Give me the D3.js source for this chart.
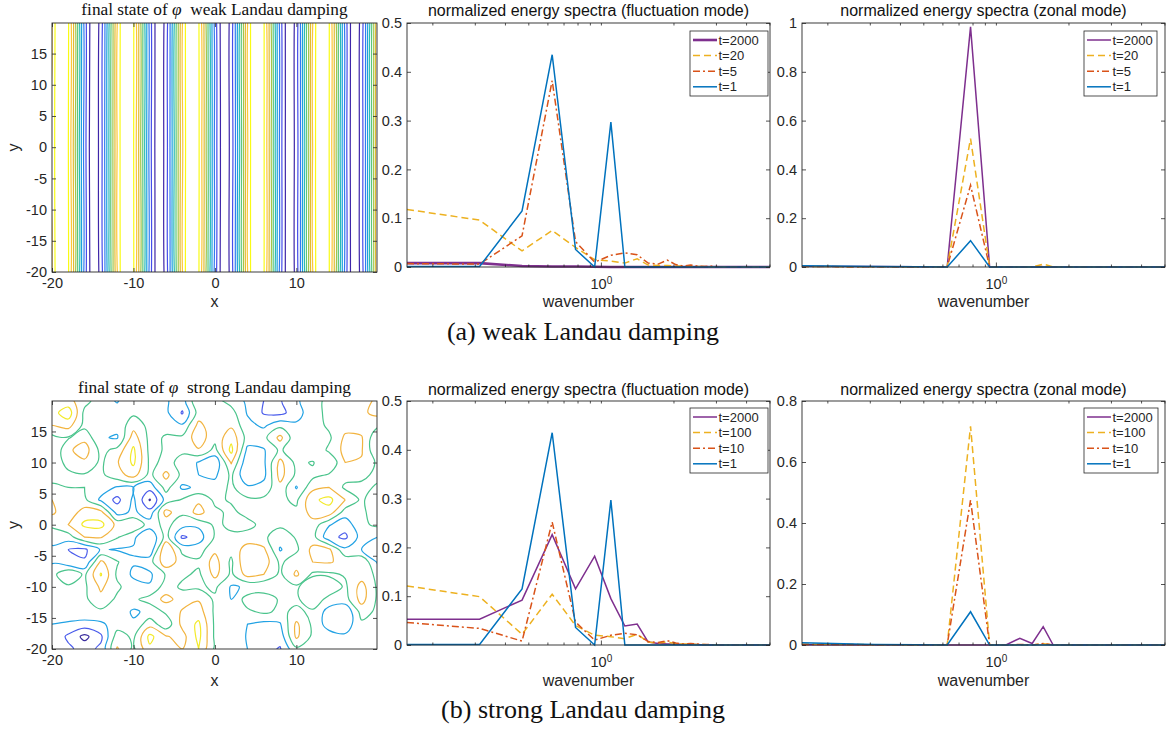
<!DOCTYPE html>
<html lang="en">
<head>
<meta charset="utf-8">
<title>Landau damping: contours and energy spectra</title>
<script src="https://cdn.jsdelivr.net/npm/d3@7"></script>
<style>
  body { margin: 0; background: #fff; }
</style>
</head>
<body>
<script>
// ---- data ----
// wavenumbers k = n * 2pi / 40, n = 1..32
const wavenumber = [0.157, 0.314, 0.471, 0.628, 0.785, 0.942, 1.100, 1.257, 1.414, 1.571,
  1.728, 1.885, 2.042, 2.199, 2.356, 2.513, 2.670, 2.827, 2.985, 3.142,
  3.299, 3.456, 3.613, 3.770, 3.927, 4.084, 4.241, 4.398, 4.555, 4.712, 4.869, 5.027];

// (a) weak damping, fluctuation mode
const weakFluctT2000 = [0.008,0.008,0.002,0.001,0.001,0.0005,0,0,0,0, 0,0,0,0,0,0,0,0,0,0, 0,0,0,0,0,0,0,0,0,0, 0,0];
const weakFluctT20   = [0.118,0.096,0.033,0.075,0.040,0.015,0.012,0.008,0.017,0.004, 0.003,0.003,0.002,0.002,0.001,0.001,0.001,0,0,0, 0,0,0,0,0,0,0,0,0,0, 0,0];
const weakFluctT5    = [0.007,0.006,0.064,0.382,0.052,0.010,0.024,0.029,0.025,0.008, 0.006,0.014,0.005,0.002,0.004,0.002,0.001,0.002,0.001,0, 0,0,0,0,0,0,0,0,0,0, 0,0];
const weakFluctT1    = [0.001,0.001,0.115,0.435,0.036,0,0.297,0,0,0, 0,0,0,0,0,0,0,0,0,0, 0,0,0,0,0,0,0,0,0,0, 0,0];
// (a) weak damping, zonal mode
const weakZonalT2000 = [0.003,0.002,0.001,0,0.984,0,0,0,0,0, 0,0,0,0,0,0,0,0,0,0, 0,0,0,0,0,0,0,0,0,0, 0,0];
const weakZonalT20   = [0.002,0.001,0,0,0.526,0,0,0,0,0.012, 0,0,0,0,0,0,0,0,0,0, 0,0,0,0,0,0,0,0,0,0, 0,0];
const weakZonalT5    = [0.002,0.001,0,0,0.335,0,0,0,0,0.002, 0,0,0,0,0,0,0,0,0,0, 0,0,0,0,0,0,0,0,0,0, 0,0];
const weakZonalT1    = [0.005,0.002,0.001,0,0.108,0,0,0,0,0, 0,0,0,0,0,0,0,0,0,0, 0,0,0,0,0,0,0,0,0,0, 0,0];
// (b) strong damping, fluctuation mode
const strongFluctT2000 = [0.053,0.053,0.092,0.226,0.115,0.182,0.095,0.039,0.043,0.006, 0.003,0.002,0.002,0.001,0.001,0.001,0,0,0,0, 0,0,0,0,0,0,0,0,0,0, 0,0];
const strongFluctT100  = [0.121,0.099,0.022,0.104,0.040,0.020,0.017,0.013,0.022,0.006, 0.004,0.006,0.003,0.002,0.002,0.001,0.001,0,0,0, 0,0,0,0,0,0,0,0,0,0, 0,0];
const strongFluctT10   = [0.046,0.034,0.008,0.252,0.047,0.010,0.020,0.024,0.021,0.007, 0.005,0.009,0.004,0.002,0.003,0.002,0.001,0.001,0,0, 0,0,0,0,0,0,0,0,0,0, 0,0];
const strongFluctT1    = [0.001,0.001,0.115,0.435,0.036,0,0.297,0,0,0, 0,0,0,0,0,0,0,0,0,0, 0,0,0,0,0,0,0,0,0,0, 0,0];
// (b) strong damping, zonal mode
const strongZonalT2000 = [0.001,0,0,0,0,0,0,0.022,0.005,0.060, 0,0,0,0,0,0,0,0,0,0, 0,0,0,0,0,0,0,0,0,0, 0,0];
const strongZonalT100  = [0.003,0.001,0,0,0.717,0,0,0,0,0.004, 0,0,0,0,0,0,0,0,0,0, 0,0,0,0,0,0,0,0,0,0, 0,0];
const strongZonalT10   = [0.002,0.001,0,0,0.475,0,0,0.002,0,0.005, 0,0,0,0,0,0,0,0,0,0, 0,0,0,0,0,0,0,0,0,0, 0,0];
const strongZonalT1    = [0.007,0.002,0.001,0,0.109,0,0,0,0,0, 0,0,0,0,0,0,0,0,0,0, 0,0,0,0,0,0,0,0,0,0, 0,0];

const weakLabels   = ["t=2000", "t=20", "t=5", "t=1"];
const strongLabels = ["t=2000", "t=100", "t=10", "t=1"];

// final state of phi, weak damping: rows y = 20, 0, -20 ; columns x = -20..20 step 0.5
const weakPhiRows = [
  [0.59,0.85,0.99,0.97,0.81,0.52,0.16,-0.23,-0.59,-0.85,-0.99,-0.97,-0.81,-0.52,-0.16,0.23,
   0.59,0.85,0.99,0.97,0.81,0.52,0.16,-0.23,-0.59,-0.85,-0.99,-0.97,-0.81,-0.52,-0.16,0.23,
   0.59,0.85,0.99,0.97,0.81,0.52,0.16,-0.23,-0.59,-0.85,-0.99,-0.97,-0.81,-0.52,-0.16,0.23,
   0.59,0.85,0.99,0.97,0.81,0.52,0.16,-0.23,-0.59,-0.85,-0.99,-0.97,-0.81,-0.52,-0.16,0.23,
   0.59,0.85,0.99,0.97,0.81,0.52,0.16,-0.23,-0.59,-0.85,-0.99,-0.97,-0.81,-0.52,-0.16,0.23, 0.59],
  [0.62,0.87,0.99,0.96,0.79,0.49,0.13,-0.26,-0.61,-0.87,-0.99,-0.96,-0.79,-0.50,-0.13,0.25,
   0.60,0.86,0.99,0.97,0.80,0.51,0.15,-0.24,-0.60,-0.86,-0.98,-0.96,-0.80,-0.51,-0.15,0.24,
   0.57,0.84,0.98,0.97,0.82,0.54,0.18,-0.21,-0.57,-0.84,-0.98,-0.97,-0.82,-0.54,-0.18,0.21,
   0.58,0.85,0.98,0.97,0.81,0.53,0.17,-0.22,-0.58,-0.85,-0.99,-0.97,-0.81,-0.53,-0.17,0.22,
   0.60,0.86,0.99,0.97,0.80,0.51,0.15,-0.24,-0.60,-0.86,-0.99,-0.97,-0.80,-0.51,-0.15,0.24, 0.62],
  [0.59,0.85,0.99,0.97,0.81,0.52,0.16,-0.23,-0.59,-0.85,-0.99,-0.97,-0.81,-0.52,-0.16,0.23,
   0.59,0.85,0.99,0.97,0.81,0.52,0.16,-0.23,-0.59,-0.85,-0.99,-0.97,-0.81,-0.52,-0.16,0.23,
   0.59,0.85,0.99,0.97,0.81,0.52,0.16,-0.23,-0.59,-0.85,-0.99,-0.97,-0.81,-0.52,-0.16,0.23,
   0.59,0.85,0.99,0.97,0.81,0.52,0.16,-0.23,-0.59,-0.85,-0.99,-0.97,-0.81,-0.52,-0.16,0.23,
   0.59,0.85,0.99,0.97,0.81,0.52,0.16,-0.23,-0.59,-0.85,-0.99,-0.97,-0.81,-0.52,-0.16,0.23, 0.59]
];
const weakLevels = [-0.89,-0.70,-0.52,-0.33,-0.145,0.04,0.23,0.41,0.60,0.785];

// final state of phi, strong damping: rows y = 20..-20 step 2 ; columns x = -20..20 step 2
const strongPhiRows = [
  [ 1.2, 1.3, 0.4,-0.6,-1.1,-0.3,-0.3,-0.9,-1.5, 1.0, 0.3,-0.4,-1.2,-2.0,-2.1,-1.2,-0.3, 0.2, 0.3, 0.8, 1.1],
  [ 1.6, 2.6,-0.3,-0.5,-0.6,-0.2,-0.3,-0.8,-2.1, 0.4, 0.3, 0.4,-1.1,-2.1,-2.3,-1.5,-0.3, 0.2, 0.3, 0.8, 1.3],
  [ 1.0, 1.4,-0.3,-0.6,-0.7, 0.6,-0.3,-0.3,-0.9, 1.3, 0.3, 0.8,-0.7,-1.2,-0.3,-0.8,-0.5, 0.2, 0.6, 0.5, 0.2],
  [-0.3,-0.1, 0.7,-0.9,-1.1, 1.5,-0.3, 0.1, 0.2, 1.6, 0.3, 1.7,-0.4,-0.3, 1.3,-0.8,-1.0,-0.2, 1.2, 1.1,-0.9],
  [-1.0, 0.8, 1.5,-0.3, 0.3, 2.2,-0.3, 0.1, 0.1, 0.9,-0.3, 2.3,-1.3,-1.1, 0.2,-0.9,-0.9, 0.2, 1.3, 1.1,-1.0],
  [-0.6, 0.3, 0.8,-0.2, 0.9, 2.2,-0.2, 0.2,-0.2,-1.1,-1.8, 1.1,-1.8,-1.2, 1.3,-0.3, 0.1,-1.0, 1.0, 0.9,-0.2],
  [-0.2,-0.2,-0.1,-0.2, 0.6, 1.4,-0.3, 1.3,-0.3,-1.0,-1.2, 0.2,-2.0,-1.3, 1.4,-0.2,-0.3, 0.1, 0.4, 0.2,-0.2],
  [ 0.1, 0.0, 0.0,-0.5,-1.1,-1.0,-1.6, 0.4,-1.2,-0.8,-0.6, 0.2,-0.8,-0.6, 0.7,-1.1, 0.7, 1.0,-0.2,-0.2, 0.1],
  [ 1.0, 0.4, 0.2,-1.2,-2.3,-0.8,-3.1,-0.6, 0.1, 0.8,-0.2, 0.1, 0.2, 0.2, 0.2,-0.2, 1.8, 2.3, 1.0,-0.2, 0.8],
  [ 1.2, 0.3, 1.5, 1.3,-1.4,-0.8,-1.6, 1.4, 0.2, 1.4, 0.2,-0.2, 0.3, 0.3, 0.3, 0.2, 1.4, 1.6,-0.5,-0.2, 0.5],
  [ 0.2, 1.0, 2.2, 2.3, 0.7, 1.0,-0.5, 0.3,-0.6,-0.8, 0.2,-0.2,-0.3, 0.3, 0.2, 0.2, 0.6,-0.9,-1.6,-0.2, 0.2],
  [-0.6,-0.5, 1.0, 1.1, 0.1,-0.8,-2.0, 0.4,-2.2,-1.5, 0.1, 0.2, 0.4, 0.2,-0.6, 0.1, 0.4,-1.7,-2.2,-0.6,-1.0],
  [-1.2,-2.0,-2.2,-0.9,-1.1,-1.1,-1.8, 2.0,-0.3,-0.5, 0.8, 0.3, 1.5, 1.2,-1.1,-0.2, 1.3, 1.2,-0.8,-1.0,-2.0],
  [-1.1,-1.8,-1.9, 1.2, 0.1,-0.9,-0.4, 1.7, 0.5, 0.2, 1.4,-0.2, 2.0, 1.6,-0.2, 0.6, 1.0, 1.1, 0.7, 0.9,-1.2],
  [-0.4, 1.0,-0.2, 2.1,-0.2,-1.2,-1.2, 0.1, 0.2,-0.2, 1.3,-0.2, 1.4, 1.0,-0.2, 1.2,-0.2,-0.2, 0.1, 0.5,-0.2],
  [-0.2,-0.2,-0.2, 1.2, 0.2,-0.6,-0.9, 0.5,-0.2,-0.2, 0.2,-1.1,-0.9,-0.9,-0.9,-0.2, 0.9, 0.9,-0.2, 1.4,-0.2],
  [-0.2,-0.2,-0.2, 0.7,-0.2,-0.2, 0.4, 1.3, 0.6, 0.9,-0.2,-1.0, 0.5, 0.9,-0.2,-0.2, 0.8,-0.4,-0.4, 1.4,-0.2],
  [-0.2,-0.2,-0.2,-0.2,-0.2,-1.2,-0.7, 0.2, 1.1, 1.5,-0.2,-0.2,-0.2, 0.2,-0.2, 0.2,-0.2,-1.4,-1.9, 0.4,-0.2],
  [-1.0,-1.2,-1.4,-1.2,-0.5,-0.8, 0.6,-0.7, 1.3, 2.2,-0.2,-0.2,-1.0,-1.3,-1.1, 1.2,-0.2,-1.5,-1.6,-0.2,-0.2],
  [-1.2,-2.2,-3.3,-2.2, 0.5,-0.2, 2.3, 1.1, 0.6, 2.3,-0.2,-0.2,-1.1,-1.7,-1.6, 1.2,-0.2,-0.5,-0.8,-0.2,-0.5],
  [-1.0,-1.8,-2.4,-1.8, 1.1,-0.2, 1.8, 1.0, 1.0, 2.0,-0.2,-0.3,-1.0,-1.6,-2.1,-0.2,-0.2,-0.2,-0.2,-0.2,-0.5]
];
const strongLevels = [-3, -2, -1, 0, 1, 2];

// ---- styles ----
const sans = '"Liberation Sans", Arial, Helvetica, sans-serif';
const serif = '"Liberation Serif", "Times New Roman", serif';
const ink = "#262626";
const seriesColor = ["#7E2F8E", "#EDB120", "#D95319", "#0072BD"];
const seriesDash = [null, "7,4", "7,3,2,3", null];
const parula = d3.piecewise(d3.interpolateRgb,
  ["#3e26a8", "#4652f2", "#2b88ef", "#13add5", "#38c698", "#88cb55", "#d9ba31", "#fcc03b", "#f9fb15"]);
const weakColors = weakLevels.map((d, i) => parula(i / (weakLevels.length - 1)));
const strongColors = ["#3b2d9e", "#4a5ceb", "#22a2e4", "#4bc48c", "#f2b440", "#f3ea2a"];

const svg = d3.select("body").append("svg")
  .attr("width", 1166).attr("height", 731)
  .style("font-family", sans);

function styleAxis(sel, size) {
  sel.attr("font-family", sans).attr("font-size", size).attr("color", ink);
  sel.select(".domain").remove();
  sel.selectAll(".tick line").attr("stroke-width", 0.8);
}

function box(g, l, t, r, b) {
  g.append("rect").attr("x", l).attr("y", t).attr("width", r - l).attr("height", b - t)
    .attr("fill", "none").attr("stroke", ink).attr("stroke-width", 0.9);
}

// ---- contour panels ----
let clipCount = 0;
function contourPanel(o) {
  const x = d3.scaleLinear().domain([-20, 19.9]).range([o.left, o.right]);
  const y = d3.scaleLinear().domain([-20, 19.9]).range([o.bottom, o.top]);
  const g = svg.append("g");
  const id = "clip" + (clipCount++);
  svg.append("clipPath").attr("id", id).append("rect")
    .attr("x", o.left).attr("y", o.top).attr("width", o.right - o.left).attr("height", o.bottom - o.top);

  const ny = o.rows.length, nx = o.rows[0].length;
  const cont = d3.contours().size([nx, ny]).thresholds(o.levels)(o.rows.flat());
  // grid value (i, j) sits at contour coordinate (i + 0.5, j + 0.5)
  const line = d3.line()
    .x(p => x(o.x0 + (p[0] - 0.5) * o.dx))
    .y(p => y(o.y0 + (p[1] - 0.5) * o.dy))
    .curve(d3.curveCatmullRomClosed.alpha(0.5));
  const cg = g.append("g").attr("clip-path", `url(#${id})`);
  cont.forEach((c, i) => {
    c.coordinates.forEach(poly => poly.forEach(ring => {
      cg.append("path").attr("d", line(ring.slice(0, -1)))
        .attr("fill", "none").attr("stroke", o.colors[i]).attr("stroke-width", 1.2);
    }));
  });

  const ax = g.append("g").attr("transform", `translate(0,${o.bottom})`)
    .call(d3.axisBottom(x).tickValues([-20, -10, 0, 10]).tickSizeInner(-4).tickSizeOuter(0)
      .tickPadding(6).tickFormat(d => String(d)));
  styleAxis(ax, 14.5);
  const axT = g.append("g").attr("transform", `translate(0,${o.top})`)
    .call(d3.axisTop(x).tickValues([-20, -10, 0, 10]).tickSizeInner(-4).tickSizeOuter(0).tickFormat(""));
  styleAxis(axT, 14.5);
  const ay = g.append("g").attr("transform", `translate(${o.left},0)`)
    .call(d3.axisLeft(y).tickValues(d3.range(-20, 16, 5)).tickSizeInner(-4).tickSizeOuter(0)
      .tickPadding(5).tickFormat(d => String(d)));
  styleAxis(ay, 14.5);
  const ayR = g.append("g").attr("transform", `translate(${o.right},0)`)
    .call(d3.axisRight(y).tickValues(d3.range(-20, 16, 5)).tickSizeInner(-4).tickSizeOuter(0).tickFormat(""));
  styleAxis(ayR, 14.5);
  box(g, o.left, o.top, o.right, o.bottom);

  g.append("text").attr("x", (o.left + o.right) / 2).attr("y", o.labelY)
    .attr("text-anchor", "middle").attr("font-size", 16).attr("fill", ink).text("x");
  g.append("text").attr("transform", `translate(19,${(o.top + o.bottom) / 2}) rotate(-90)`)
    .attr("text-anchor", "middle").attr("font-size", 16).attr("fill", ink).text("y");
  const t = g.append("text").attr("x", (o.left + o.right) / 2).attr("y", o.titleY)
    .attr("text-anchor", "middle").attr("font-family", serif).attr("font-size", 17.3).attr("fill", "#111");
  t.append("tspan").text("final state of ");
  t.append("tspan").attr("font-style", "italic").text("\u03c6");
  t.append("tspan").text("\u00a0\u00a0" + o.title);
}

// ---- spectrum panels ----
const minorTicks = [0.2, 0.3, 0.4, 0.5, 0.6, 0.7, 0.8, 0.9, 2, 3, 4, 5];
function spectrumPanel(o) {
  const x = d3.scaleLog().domain([wavenumber[0], wavenumber[wavenumber.length - 1]]).range([o.left, o.right]);
  const y = d3.scaleLinear().domain([0, o.ymax]).range([o.bottom, o.top]);
  const g = svg.append("g");

  const line = d3.line().x((d, i) => x(wavenumber[i])).y(d => y(d));
  o.series.forEach((s, i) => {
    g.append("path").attr("d", line(s)).attr("fill", "none")
      .attr("stroke", seriesColor[i]).attr("stroke-width", i === 0 ? o.w0 : 1.5)
      .attr("stroke-dasharray", seriesDash[i]);
  });

  const axMinor = g.append("g").attr("transform", `translate(0,${o.bottom})`)
    .call(d3.axisBottom(x).tickValues(minorTicks).tickSizeInner(-2.5).tickSizeOuter(0).tickFormat(""));
  styleAxis(axMinor, 14.5);
  const axMinorT = g.append("g").attr("transform", `translate(0,${o.top})`)
    .call(d3.axisTop(x).tickValues(minorTicks.concat([1])).tickSizeInner(-2.5).tickSizeOuter(0).tickFormat(""));
  styleAxis(axMinorT, 14.5);
  const ax = g.append("g").attr("transform", `translate(0,${o.bottom})`)
    .call(d3.axisBottom(x).tickValues([1]).tickSizeInner(-4.5).tickSizeOuter(0).tickPadding(12).tickFormat(() => "10"));
  styleAxis(ax, 14.5);
  ax.selectAll(".tick text").append("tspan").attr("dy", "-0.5em").attr("font-size", 10).text("0");

  const ay = g.append("g").attr("transform", `translate(${o.left},0)`)
    .call(d3.axisLeft(y).tickValues(o.yticks).tickSizeInner(-4).tickSizeOuter(0).tickPadding(5)
      .tickFormat(d => String(+d.toFixed(2))));
  styleAxis(ay, 14.5);
  const ayR = g.append("g").attr("transform", `translate(${o.right},0)`)
    .call(d3.axisRight(y).tickValues(o.yticks).tickSizeInner(-4).tickSizeOuter(0).tickFormat(""));
  styleAxis(ayR, 14.5);
  box(g, o.left, o.top, o.right, o.bottom);

  g.append("text").attr("x", (o.left + o.right) / 2).attr("y", o.labelY)
    .attr("text-anchor", "middle").attr("font-size", 16).attr("fill", ink).text("wavenumber");
  g.append("text").attr("x", (o.left + o.right) / 2).attr("y", o.titleY)
    .attr("text-anchor", "middle").attr("font-size", 16).attr("fill", "#111").text(o.title);

  // legend
  const lg = g.append("g");
  lg.append("rect").attr("x", o.legX).attr("y", o.legY).attr("width", o.legW).attr("height", 65)
    .attr("fill", "#fff").attr("stroke", ink).attr("stroke-width", 0.8);
  o.labels.forEach((lab, i) => {
    const yy = o.legY + 9 + i * 15.6;
    lg.append("line").attr("x1", o.legX + 3).attr("x2", o.legX + 27).attr("y1", yy).attr("y2", yy)
      .attr("stroke", seriesColor[i]).attr("stroke-width", i === 0 ? o.w0 : 1.5)
      .attr("stroke-dasharray", seriesDash[i]);
    lg.append("text").attr("x", o.legX + 28.5).attr("y", yy + 4.6)
      .attr("font-size", 13).attr("fill", ink).text(lab);
  });
}

// ---- row (a) ----
contourPanel({ left: 52, right: 377, top: 23, bottom: 272, rows: weakPhiRows, levels: weakLevels,
  colors: weakColors, x0: -20, dx: 0.5, y0: 20, dy: -20, labelY: 307, titleY: 15, title: "weak Landau damping" });
spectrumPanel({ left: 407, right: 770, top: 23, bottom: 267, ymax: 0.5, yticks: [0, 0.1, 0.2, 0.3, 0.4, 0.5],
  series: [weakFluctT2000, weakFluctT20, weakFluctT5, weakFluctT1], labels: weakLabels, w0: 2.6,
  title: "normalized energy spectra (fluctuation mode)", labelY: 307, titleY: 16, legX: 690, legY: 31, legW: 78 });
spectrumPanel({ left: 802, right: 1165, top: 23, bottom: 267, ymax: 1, yticks: [0, 0.2, 0.4, 0.6, 0.8, 1],
  series: [weakZonalT2000, weakZonalT20, weakZonalT5, weakZonalT1], labels: weakLabels, w0: 1.5,
  title: "normalized energy spectra (zonal mode)", labelY: 307, titleY: 16, legX: 1084, legY: 31, legW: 73 });

// ---- row (b) ----
contourPanel({ left: 52, right: 377, top: 401, bottom: 649, rows: strongPhiRows, levels: strongLevels,
  colors: strongColors, x0: -20, dx: 2, y0: 20, dy: -2, labelY: 686, titleY: 393, title: "strong Landau damping" });
spectrumPanel({ left: 407, right: 770, top: 401, bottom: 645, ymax: 0.5, yticks: [0, 0.1, 0.2, 0.3, 0.4, 0.5],
  series: [strongFluctT2000, strongFluctT100, strongFluctT10, strongFluctT1], labels: strongLabels, w0: 1.5,
  title: "normalized energy spectra (fluctuation mode)", labelY: 686, titleY: 395, legX: 690, legY: 408, legW: 78 });
spectrumPanel({ left: 802, right: 1165, top: 401, bottom: 645, ymax: 0.8, yticks: [0, 0.2, 0.4, 0.6, 0.8],
  series: [strongZonalT2000, strongZonalT100, strongZonalT10, strongZonalT1], labels: strongLabels, w0: 1.5,
  title: "normalized energy spectra (zonal mode)", labelY: 686, titleY: 395, legX: 1084, legY: 408, legW: 74 });

// ---- sub-captions ----
svg.append("text").attr("x", 583).attr("y", 340).attr("text-anchor", "middle")
  .attr("font-family", serif).attr("font-size", 26).attr("fill", "#111").text("(a) weak Landau damping");
svg.append("text").attr("x", 583).attr("y", 718).attr("text-anchor", "middle")
  .attr("font-family", serif).attr("font-size", 26).attr("fill", "#111").text("(b) strong Landau damping");
</script>
</body>
</html>
